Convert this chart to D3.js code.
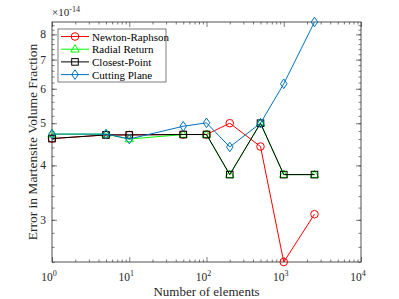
<!DOCTYPE html>
<html>
<head>
<meta charset="utf-8">
<script src="https://cdn.jsdelivr.net/npm/d3@7"></script>
<style>
  body { margin: 0; background: #fff; }
  svg { font-family: "Liberation Serif", "Times New Roman", serif; }
</style>
</head>
<body>
<div id="chart"></div>
<script>
// number of elements on the x axis
const elements = [1, 5, 10, 50, 100, 200, 500, 1000, 2500];

// error values, in units of 1e-14
const newtonRaphson = [4.61, 4.70, 4.70, 4.71, 4.71, 5.00, 4.42, 2.40, 3.09];
const radialReturn  = [4.72, 4.72, 4.60, 4.71, 4.71, 3.81, 5.00, 3.81, 3.81];
const closestPoint  = [4.61, 4.70, 4.70, 4.71, 4.71, 3.81, 5.00, 3.81, 3.81];
const cuttingPlane  = [4.72, 4.72, 4.60, 4.92, 5.01, 4.41, 5.00, 6.16, 8.54];

const seriesNames = ["Newton-Raphson", "Radial Return", "Closest-Point", "Cutting Plane"];
const yTicks = [3, 4, 5, 6, 7, 8];
const xTicks = [1, 10, 100, 1000, 10000];

const series = [
    { name: seriesNames[0], values: newtonRaphson, color: "#ff0000", marker: "circle" },
    { name: seriesNames[1], values: radialReturn,  color: "#00ff00", marker: "triangle" },
    { name: seriesNames[2], values: closestPoint,  color: "#000000", marker: "square" },
    { name: seriesNames[3], values: cuttingPlane,  color: "#0072bd", marker: "diamond" }
];

const W = 399, H = 299;
const margin = { top: 22, right: 38, bottom: 37, left: 52 };
const width = W - margin.left - margin.right;
const height = H - margin.top - margin.bottom;

const svg = d3.select("#chart").append("svg")
    .attr("width", W)
    .attr("height", H);

const g = svg.append("g")
    .attr("transform", `translate(${margin.left},${margin.top})`);

const allVals = series.flatMap(s => s.values);
const x = d3.scaleLog().domain([1, 10000]).range([0, width]);
const y = d3.scaleLog().domain([d3.min(allVals), d3.max(allVals)]).range([height, 0]);

const axisColor = "#262626";

// minor ticks
const xMinor = [];
for (let d = 1; d < 10000; d *= 10) {
    for (let k = 2; k <= 9; k++) xMinor.push(d * k);
}
const yMinor = d3.range(24, 87, 2).map(v => v / 10).filter(v => v >= y.domain()[0] && v <= y.domain()[1]);

// bottom axis
g.append("g")
    .attr("transform", `translate(0,${height})`)
    .call(d3.axisBottom(x).tickValues(xTicks).tickSize(-5).tickFormat(""))
    .call(a => a.select(".domain").remove());
g.append("g")
    .attr("transform", `translate(0,${height})`)
    .call(d3.axisBottom(x).tickValues(xMinor).tickSize(-2.5).tickFormat(""))
    .call(a => a.select(".domain").remove());
// top axis
g.append("g")
    .call(d3.axisTop(x).tickValues(xTicks).tickSize(-5).tickFormat(""))
    .call(a => a.select(".domain").remove());
g.append("g")
    .call(d3.axisTop(x).tickValues(xMinor).tickSize(-2.5).tickFormat(""))
    .call(a => a.select(".domain").remove());
// left axis
g.append("g")
    .call(d3.axisLeft(y).tickValues(yTicks).tickSize(-5).tickFormat(""))
    .call(a => a.select(".domain").remove());
g.append("g")
    .call(d3.axisLeft(y).tickValues(yMinor).tickSize(-2.5).tickFormat(""))
    .call(a => a.select(".domain").remove());
// right axis
g.append("g")
    .attr("transform", `translate(${width},0)`)
    .call(d3.axisRight(y).tickValues(yTicks).tickSize(-5).tickFormat(""))
    .call(a => a.select(".domain").remove());
g.append("g")
    .attr("transform", `translate(${width},0)`)
    .call(d3.axisRight(y).tickValues(yMinor).tickSize(-2.5).tickFormat(""))
    .call(a => a.select(".domain").remove());

g.selectAll(".tick line").attr("stroke", axisColor).attr("stroke-width", 0.6);

// box
g.append("rect")
    .attr("width", width)
    .attr("height", height)
    .attr("fill", "none")
    .attr("stroke", axisColor)
    .attr("stroke-width", 0.8);

// y tick labels
g.selectAll(".ylab")
    .data(yTicks)
    .enter().append("text")
    .attr("x", -6)
    .attr("y", d => y(d) + 4)
    .attr("text-anchor", "end")
    .attr("font-size", 11.5)
    .attr("fill", axisColor)
    .text(d => d);

// x tick labels: 10^n
const xl = g.selectAll(".xlab")
    .data(xTicks)
    .enter().append("text")
    .attr("x", d => x(d) - 3)
    .attr("y", height + 19)
    .attr("text-anchor", "middle")
    .attr("font-size", 11.5)
    .attr("fill", axisColor);
xl.append("tspan").text("10");
xl.append("tspan")
    .attr("font-size", 8)
    .attr("dy", -5)
    .text(d => Math.round(Math.log10(d)));

// exponent label
const ex = g.append("text")
    .attr("x", 0)
    .attr("y", -6)
    .attr("font-size", 11)
    .attr("fill", axisColor);
ex.append("tspan").text("\u00d710");
ex.append("tspan").attr("font-size", 8).attr("dy", -4).text("-14");

// axis titles
g.append("text")
    .attr("x", width / 2)
    .attr("y", height + 34)
    .attr("text-anchor", "middle")
    .attr("font-size", 13)
    .attr("fill", axisColor)
    .text("Number of elements");

g.append("text")
    .attr("transform", `translate(${-15},${height / 2}) rotate(-90)`)
    .attr("text-anchor", "middle")
    .attr("font-size", 13.5)
    .attr("fill", axisColor)
    .text("Error in Martensite Volume Fraction");

// markers
function drawMarker(sel, type, color) {
    if (type === "circle") {
        sel.append("circle").attr("r", 3.8);
    } else if (type === "triangle") {
        sel.append("path").attr("d", "M0,-4.5L4.2,2.8L-4.2,2.8Z");
    } else if (type === "square") {
        sel.append("rect").attr("x", -3.3).attr("y", -3.3).attr("width", 6.6).attr("height", 6.6);
    } else {
        sel.append("path").attr("d", "M0,-4.8L3.3,0L0,4.8L-3.3,0Z");
    }
    sel.selectAll("*").attr("fill", "none").attr("stroke", color).attr("stroke-width", 1);
}

const line = d3.line()
    .x((d, i) => x(elements[i]))
    .y(d => y(d));

series.forEach(s => {
    g.append("path")
        .datum(s.values)
        .attr("d", line)
        .attr("fill", "none")
        .attr("stroke", s.color)
        .attr("stroke-width", 1);
    s.values.forEach((v, i) => {
        const m = g.append("g").attr("transform", `translate(${x(elements[i])},${y(v)})`);
        drawMarker(m, s.marker, s.color);
    });
});

// legend
const legend = g.append("g").attr("transform", "translate(6,7)");
legend.append("rect")
    .attr("width", 108)
    .attr("height", 53)
    .attr("fill", "#fff")
    .attr("stroke", axisColor)
    .attr("stroke-width", 0.6);
series.forEach((s, i) => {
    const row = legend.append("g").attr("transform", `translate(0,${7.5 + i * 12.7})`);
    row.append("line")
        .attr("x1", 3).attr("x2", 31)
        .attr("stroke", s.color).attr("stroke-width", 1);
    const m = row.append("g").attr("transform", "translate(17,0)");
    drawMarker(m, s.marker, s.color);
    row.append("text")
        .attr("x", 34)
        .attr("y", 4)
        .attr("font-size", 11)
        .attr("fill", "#000")
        .text(s.name);
});
</script>
</body>
</html>
